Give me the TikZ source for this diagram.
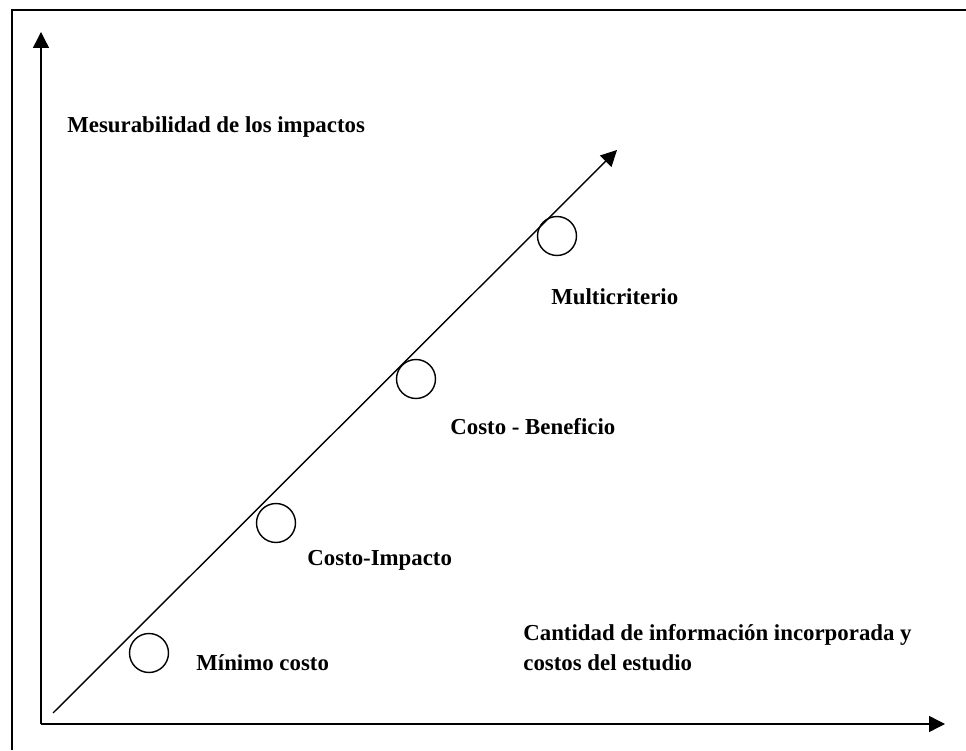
\documentclass[tikz,border=0pt]{standalone}
\usepackage{fontspec}
\setmainfont{Liberation Serif}
\usetikzlibrary{arrows.meta,positioning}

\tikzset{
	metodo/.style={draw, circle, line width=0.8pt, minimum size=0.78cm, inner sep=0pt},
	rotulo/.style={anchor=base west, inner sep=0pt, font=\fontsize{13}{17}\selectfont\bfseries, align=left},
	eje/.style={line width=0.8pt, -{Triangle[length=0.32cm,width=0.32cm]}},
}

\begin{document}
\begin{tikzpicture}[x=0.02cm, y=0.02cm]

% frame %{{{1

	\useasboundingbox (0,0) rectangle (966,750);
	\draw[line width=1.2pt] (12,0) -- (12,740) -- (966,740);

% coordinates %{{{1

	\coordinate (O) at (41,26);
	\coordinate (Y) at (41,718);
	\coordinate (X) at (945,26);

	\coordinate (D0) at (53,37);
	\coordinate (D1) at (617,600);

% axes %{{{1

	\draw[eje] (O) -- (Y);
	\draw[eje] (O) -- (X);
	\draw[eje] (D0) -- (D1);

% circles %{{{1

	\node[metodo] (minimo)    at (149,97)  {};
	\node[metodo] (impacto)   at (276,227) {};
	\node[metodo] (beneficio) at (416,371) {};
	\node[metodo] (multi)     at (557,514) {};

% labels %{{{1

	\node[rotulo] (lminimo)    at (196,79)  {Mínimo costo};
	\node[rotulo] (limpacto)   at (307,184) {Costo-Impacto};
	\node[rotulo] (lbeneficio) at (450,315) {Costo - Beneficio};
	\node[rotulo] (lmulti)     at (551,445) {Multicriterio};

	\node[rotulo] (leje y) at (67,617) {Mesurabilidad de los impactos};
	\node[rotulo, anchor=north west] (leje x) at (523,126)
		{Cantidad de información incorporada y\\costos del estudio};

% closing %{{{1

\end{tikzpicture}
\end{document}
